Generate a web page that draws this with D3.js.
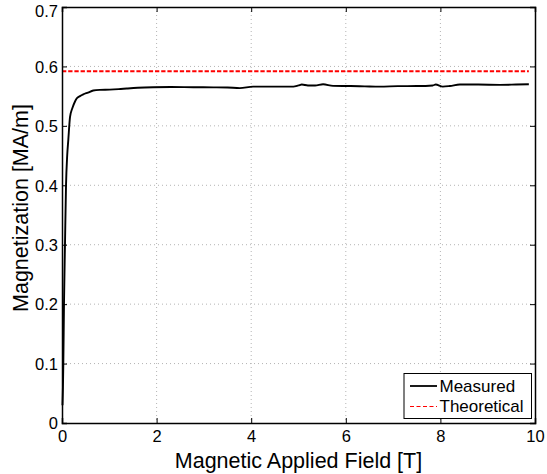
<!DOCTYPE html>
<html><head><meta charset="utf-8">
<script src="https://cdn.jsdelivr.net/npm/d3@7"></script>
<style>body{margin:0;background:#fff}svg{display:block}text{font-family:"Liberation Sans",Arial,sans-serif}</style>
</head><body>
<script>
const fieldT = [0.01,0.02,0.028,0.042,0.063,0.085,0.11,0.133,0.17,0.22,0.275,0.31,0.38,0.45,0.55,0.66,0.8,1.01,1.2,1.37,1.6,1.93,2.3,2.78,3.2,3.5,3.76,4.04,4.5,4.89,5.0,5.07,5.2,5.35,5.52,5.73,6.1,6.4,6.72,7.1,7.5,7.84,7.9,8.05,8.2,8.41,8.8,9.26,9.6,9.87];
const measured = [0.03,0.06,0.1,0.2,0.3,0.4,0.45,0.476,0.515,0.53,0.541,0.546,0.55,0.553,0.556,0.5595,0.5606,0.561,0.5618,0.5628,0.564,0.565,0.5655,0.565,0.5648,0.5645,0.5635,0.566,0.566,0.566,0.568,0.5695,0.568,0.568,0.570,0.5673,0.567,0.5665,0.566,0.5668,0.567,0.568,0.5695,0.566,0.567,0.5695,0.5695,0.569,0.5695,0.570];
const theoreticalX = [0, 9.87];
const theoreticalY = [0.592, 0.592];
const xTicks = [0,2,4,6,8,10];
const yTicks = [0,0.1,0.2,0.3,0.4,0.5,0.6,0.7];
const seriesNames = ["Measured","Theoretical"];

const W=547,H=474, L=62, R=535, T=7, B=423;
const svg=d3.select("body").append("svg").attr("width",W).attr("height",H);
const x=d3.scaleLinear().domain([0,10]).range([L,R]);
const y=d3.scaleLinear().domain([0,0.7]).range([B,T]);

// grid
const g=svg.append("g");
g.selectAll(".gx").data(xTicks.slice(1,-1)).join("line")
 .attr("x1",d=>x(d)).attr("x2",d=>x(d)).attr("y1",T).attr("y2",B)
 .attr("stroke","#b4b4b4").attr("stroke-width",1).attr("stroke-dasharray","1,3");
g.selectAll(".gy").data(yTicks.slice(1,-1)).join("line")
 .attr("y1",d=>y(d)).attr("y2",d=>y(d)).attr("x1",L).attr("x2",R)
 .attr("stroke","#b4b4b4").attr("stroke-width",1).attr("stroke-dasharray","1,3");

// data
const line=d3.line().x(d=>x(d[0])).y(d=>y(d[1])).curve(d3.curveMonotoneX);
svg.append("path").datum(theoreticalX.map((v,i)=>[v,theoreticalY[i]]))
 .attr("d",d3.line().x(d=>x(d[0])).y(d=>y(d[1])))
 .attr("fill","none").attr("stroke","#ff0000").attr("stroke-width",2).attr("stroke-dasharray","4.3,1.9");
svg.append("path").datum(fieldT.map((v,i)=>[v,measured[i]]))
 .attr("d",line).attr("fill","none").attr("stroke","#000").attr("stroke-width",1.9);

// axes with inner ticks
const ax=d3.axisBottom(x).tickValues(xTicks).tickSize(-5).tickPadding(7).tickFormat(d3.format("d"));
const ay=d3.axisLeft(y).tickValues(yTicks).tickSize(-5).tickPadding(4).tickFormat(d=>d===0?"0":d3.format(".1f")(d));
const gx=svg.append("g").attr("transform",`translate(0,${B})`).call(ax);
const gy=svg.append("g").attr("transform",`translate(${L},0)`).call(ay);
const gx2=svg.append("g").attr("transform",`translate(0,${T})`).call(d3.axisTop(x).tickValues(xTicks).tickSize(-5).tickFormat(""));
const gy2=svg.append("g").attr("transform",`translate(${R},0)`).call(d3.axisRight(y).tickValues(yTicks).tickSize(-5).tickFormat(""));
[gx,gy,gx2,gy2].forEach(a=>{a.select(".domain").attr("stroke","#000").attr("stroke-width",1.5);
 a.selectAll(".tick line").attr("stroke","#000").attr("stroke-width",1);
 a.selectAll("text").attr("font-size",16.5).attr("fill","#000").attr("font-family","Liberation Sans, Arial, sans-serif");});
gx.selectAll("text").attr("dy","0.71em");
gy.selectAll("text").attr("dy",d=>d===0.7?"0.55em":"0.35em");

// labels
svg.append("text").attr("x",(L+R)/2).attr("y",468).attr("text-anchor","middle").attr("font-size",21.5).text("Magnetic Applied Field [T]");
svg.append("text").attr("transform",`translate(28,${(T+B)/2-7}) rotate(-90)`).attr("text-anchor","middle").attr("font-size",21.5).text("Magnetization [MA/m]");

// legend
const lg=svg.append("g");
lg.append("rect").attr("x",404).attr("y",373.5).attr("width",127.5).attr("height",45).attr("fill","#fff").attr("stroke","#000").attr("stroke-width",1);
const styles=[{c:"#000",d:null,w:1.8},{c:"#ff0000",d:"4,2.5",w:1.2}];
seriesNames.forEach((n,i)=>{
 const yy=386+i*20.5;
 lg.append("line").attr("x1",410).attr("x2",437).attr("y1",yy).attr("y2",yy).attr("stroke",styles[i].c).attr("stroke-width",styles[i].w).attr("stroke-dasharray",styles[i].d);
 lg.append("text").attr("x",439.5).attr("y",yy).attr("dy","0.35em").attr("font-size",17).text(n);
});
</script>
</body></html>
